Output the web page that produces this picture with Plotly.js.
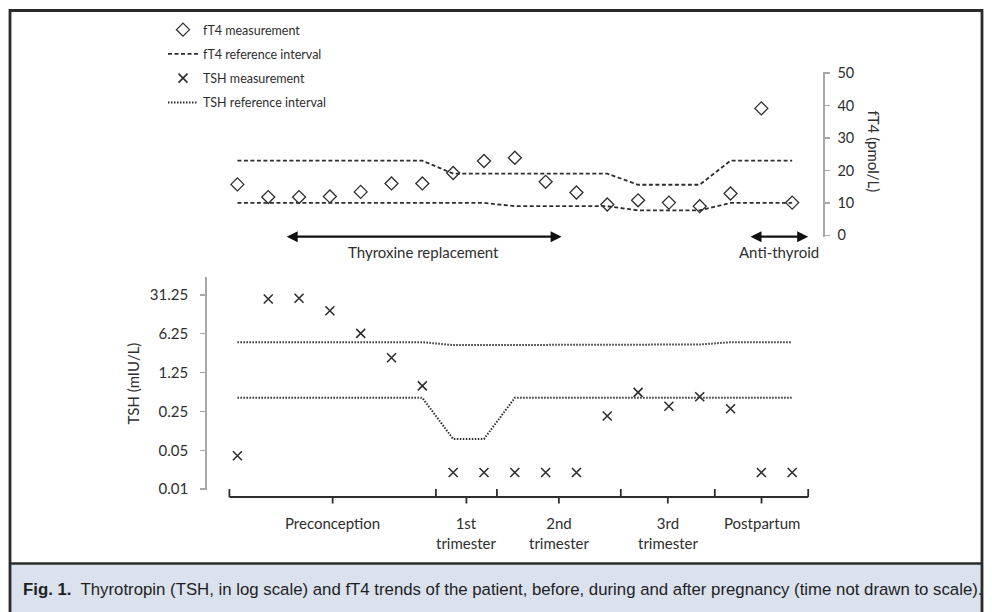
<!DOCTYPE html>
<html><head><meta charset="utf-8">
<script src="https://cdn.plot.ly/plotly-3.0.1.min.js"></script>
<style>html,body{margin:0;padding:0;background:#fff}#chart{width:992px;height:612px}</style>
</head><body><div id="chart"></div>
<script>
// ---- data (time points are not drawn to scale) ----
const visits = [0,1,2,3,4,5,6,7,8,9,10,11,12,13,14,15,16,17,18];
const ft4Values   = [15.7, 11.8, 11.8, 12.0, 13.4, 16.0, 16.0, 19.2, 22.9, 23.9, 16.5, 13.2, 9.5, 10.8, 10.1, 9.0, 12.9, 39.1, 10.1];
const ft4RefUpper = [23, 23, 23, 23, 23, 23, 23, 19, 19, 19, 19, 19, 19, 15.6, 15.6, 15.6, 23, 23, 23];
const ft4RefLower = [10, 10, 10, 10, 10, 10, 10, 10, 10, 9, 9, 9, 9, 7.7, 7.7, 7.7, 10, 10, 10];
const tshValues   = [0.040, 26.3, 27.1, 16.2, 6.35, 2.31, 0.72, 0.02, 0.02, 0.02, 0.02, 0.02, 0.207, 0.55, 0.31, 0.46, 0.28, 0.02, 0.02];
const tshRefUpper = [4.4, 4.4, 4.4, 4.4, 4.4, 4.4, 4.4, 3.9, 3.9, 4.0, 4.0, 4.0, 4.0, 4.0, 4.0, 4.0, 4.4, 4.4, 4.4];
const tshRefLower = [0.44, 0.44, 0.44, 0.44, 0.44, 0.44, 0.44, 0.08, 0.08, 0.44, 0.44, 0.44, 0.44, 0.44, 0.44, 0.44, 0.44, 0.44, 0.44];
const tshTicks = [0.01, 0.05, 0.25, 1.25, 6.25, 31.25];
const tshTickText = ['0.01', '0.05', '0.25', '1.25', '6.25', '31.25'];
const ft4Ticks = [0, 10, 20, 30, 40, 50];
const periodLabels = ['Preconception', '1st<br>trimester', '2nd<br>trimester', '3rd<br>trimester', 'Postpartum'];
const periodBounds = [-0.26, 6.44, 8.42, 12.44, 15.49, 18.52];
const thyroxineSpan = [1.55, 10.52];
const antiThyroidSpan = [16.6, 18.52];
const captionText = '<b>Fig. 1.</b>\u00a0 Thyrotropin (TSH, in log scale) and fT4 trends of the patient, before, during and after pregnancy (time not drawn to scale).';

// ---- helpers: pixel -> paper ----
const W = 992, H = 612;
const px = v => v / W;
const py = v => 1 - v / H;
const INK = '#2e2e2e';
const AXIS = '#a8a8a8';
const FONT = 'Lato, "Open Sans", "DejaVu Sans", sans-serif';

const joinPair = (a, b) => a.concat([null], b);
const xPair = visits.concat([null], visits);

const traces = [
  {x: visits, y: ft4Values, xaxis: 'x', yaxis: 'y2', type: 'scatter', mode: 'markers',
   name: 'fT4 measurement', legendgroup: 'a', cliponaxis: false,
   marker: {symbol: 'diamond-open', size: 10, color: INK, line: {width: 1.3, color: INK}}},
  {x: xPair, y: joinPair(ft4RefUpper, ft4RefLower), xaxis: 'x', yaxis: 'y2', type: 'scatter', mode: 'lines',
   name: 'fT4 reference interval', legendgroup: 'b', connectgaps: false,
   line: {color: INK, width: 1.8, dash: '4px,2.5px'}},
  {x: visits, y: tshValues, xaxis: 'x', yaxis: 'y', type: 'scatter', mode: 'markers',
   name: 'TSH measurement', legendgroup: 'c', cliponaxis: false,
   marker: {symbol: 'x-thin-open', size: 9, color: INK, line: {width: 1.6, color: INK}}},
  {x: xPair, y: joinPair(tshRefUpper, tshRefLower), xaxis: 'x', yaxis: 'y', type: 'scatter', mode: 'lines',
   name: 'TSH reference interval', legendgroup: 'd', connectgaps: false,
   line: {color: INK, width: 2, dash: '1.5px,1.5px'}}
];

// bracket time axis built from period bounds
const mids = periodBounds.slice(0, -1).map((b, i) => (b + periodBounds[i + 1]) / 2);
const bx = [periodBounds[0], periodBounds[periodBounds.length - 1], null];
const by = [0, 0, null];
periodBounds.forEach(b => { bx.push(b, b, null); by.push(0, 0.8, null); });
mids.forEach(m => { bx.push(m, m, null); by.push(0, -0.65, null); });
traces.push({x: bx, y: by, xaxis: 'x', yaxis: 'y3', type: 'scatter', mode: 'lines',
  showlegend: false, hoverinfo: 'skip', cliponaxis: false,
  line: {color: INK, width: 1.8}});

const annotations = [];
periodLabels.forEach((t, i) => annotations.push({
  text: t, xref: 'x', x: mids[i], yref: 'paper', y: py(512), xanchor: 'center', yanchor: 'top',
  showarrow: false, font: {size: 15, color: INK}}));

// treatment arrows
[thyroxineSpan, antiThyroidSpan].forEach(s => annotations.push({
  text: '', xref: 'x', yref: 'y2', x: s[1], y: -0.4, axref: 'x', ayref: 'y2', ax: s[0], ay: -0.4,
  showarrow: true, arrowside: 'end+start', arrowhead: 2, startarrowhead: 2, arrowsize: 1, startarrowsize: 1,
  arrowwidth: 2.2, arrowcolor: '#111', standoff: 0, startstandoff: 0}));
annotations.push({text: 'Thyroxine replacement', xref: 'x', x: (thyroxineSpan[0] + thyroxineSpan[1]) / 2,
  yref: 'paper', y: py(252), xanchor: 'center', yanchor: 'middle', showarrow: false, font: {size: 15, color: INK}});
annotations.push({text: 'Anti-thyroid', xref: 'x', x: (antiThyroidSpan[0] + antiThyroidSpan[1]) / 2,
  yref: 'paper', y: py(252), xanchor: 'center', yanchor: 'middle', showarrow: false, font: {size: 15, color: INK}});

// fT4 axis title (reads top to bottom)
annotations.push({text: 'fT4 (pmol/L)', xref: 'paper', yref: 'paper', x: px(874), y: py(151.5),
  xanchor: 'center', yanchor: 'middle', textangle: 90, showarrow: false, font: {size: 15, color: INK}});

// caption
annotations.push({text: captionText, xref: 'paper', yref: 'paper', x: px(21), y: py(589),
  xanchor: 'left', yanchor: 'middle', showarrow: false,
  font: {size: 16.8, color: '#1e1e1e', family: '"Liberation Sans", Arial, sans-serif'}});

const shapes = [
  {type: 'rect', xref: 'paper', yref: 'paper', x0: px(10), x1: px(982), y0: py(563.5), y1: py(640),
   fillcolor: '#dae2ee', line: {width: 0}, layer: 'below'},
  {type: 'line', xref: 'paper', yref: 'paper', x0: px(10), x1: px(982), y0: py(563.5), y1: py(563.5),
   line: {color: '#2b2b2b', width: 2.5}},
  {type: 'rect', xref: 'paper', yref: 'paper', x0: px(10), x1: px(982), y0: py(10.5), y1: py(640),
   fillcolor: 'rgba(0,0,0,0)', line: {color: '#2b2b2b', width: 2.8}}
];

const layout = {
  width: W, height: H, autosize: false,
  margin: {l: 0, r: 0, t: 0, b: 0},
  paper_bgcolor: '#ffffff', plot_bgcolor: 'rgba(0,0,0,0)',
  font: {family: FONT, size: 15, color: INK},
  showlegend: true,
  legend: {x: px(163), y: py(15), xanchor: 'left', yanchor: 'top', bgcolor: 'rgba(0,0,0,0)',
    font: {size: 12.5, color: INK}, traceorder: 'grouped', tracegroupgap: 5, itemwidth: 30},
  xaxis: {domain: [px(206.6), px(823)], range: [-1, 19], showline: false, showticklabels: false,
    ticks: '', showgrid: false, zeroline: false, fixedrange: true},
  yaxis: {domain: [py(489.8), py(277.3)], type: 'log', range: [-2.01, 1.81], anchor: 'x',
    tickmode: 'array', tickvals: tshTicks, ticktext: tshTickText,
    showline: true, linecolor: AXIS, linewidth: 1.5, ticks: 'outside', ticklen: 5, tickcolor: AXIS, tickwidth: 1.5,
    ticklabelstandoff: 9, showgrid: false, zeroline: false, tickfont: {size: 15, color: INK},
    title: {text: 'TSH (mIU/L)', font: {size: 15, color: INK}, standoff: 6}},
  yaxis2: {domain: [py(236.7), py(71.7)], range: [-0.4, 50.4], anchor: 'x', side: 'right',
    tickmode: 'array', tickvals: ft4Ticks,
    showline: true, linecolor: AXIS, linewidth: 1.5, ticks: 'outside', ticklen: 5, tickcolor: AXIS, tickwidth: 1.5,
    ticklabelstandoff: 5, showgrid: false, zeroline: false, tickfont: {size: 14.5, color: INK}},
  yaxis3: {domain: [py(507), py(487)], range: [-1, 1], anchor: 'x', visible: false, fixedrange: true},
  annotations: annotations,
  shapes: shapes
};

Plotly.newPlot('chart', traces, layout, {staticPlot: true, displayModeBar: false});
</script>
</body></html>
